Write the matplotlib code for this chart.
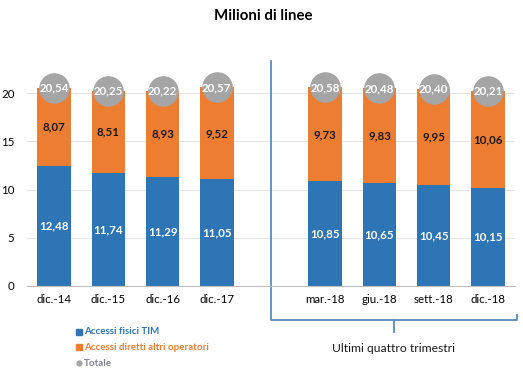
import matplotlib.pyplot as plt
import matplotlib.transforms as mtransforms
from matplotlib.lines import Line2D
import numpy as np

plt.rcParams['font.family'] = ['Lato', 'DejaVu Sans']

# dati (milioni di linee)
periodi = ['dic.-14', 'dic.-15', 'dic.-16', 'dic.-17',
           'mar.-18', 'giu.-18', 'sett.-18', 'dic.-18']
posizioni = [0, 1, 2, 3, 5, 6, 7, 8]
accessi_tim = [12.48, 11.74, 11.29, 11.05, 10.85, 10.65, 10.45, 10.15]
accessi_olo = [8.07, 8.51, 8.93, 9.52, 9.73, 9.83, 9.95, 10.06]
totale = [20.54, 20.25, 20.22, 20.57, 20.58, 20.48, 20.40, 20.21]
y_ticks = [0, 5, 10, 15, 20]

BLU = '#2e75b6'
ARANCIO = '#ed7d31'
GRIGIO = '#a5a5a5'
LINEA = '#5b8ac2'

fmt = lambda v: f"{v:.2f}".replace('.', ',')

fig = plt.figure(figsize=(5.23, 3.79), dpi=100)
ax = fig.add_axes([27 / 523, 93 / 379, 488 / 523, 22 * 9.65 / 379])

x = np.array(posizioni)
ax.bar(x, accessi_tim, width=0.62, color=BLU, zorder=2)
ax.bar(x, accessi_olo, width=0.62, bottom=accessi_tim, color=ARANCIO, zorder=2)
ax.plot(x, totale, 'o', color=GRIGIO, markersize=21, zorder=3, clip_on=False)

for xi, a, b, t in zip(x, accessi_tim, accessi_olo, totale):
    ax.text(xi, a / 2, fmt(a), ha='center', va='center', color='white',
            fontsize=8.3, fontweight='bold', zorder=4)
    ax.text(xi, a + b / 2, fmt(b), ha='center', va='center', color='#1a1a1a',
            fontsize=8.3, fontweight='bold', zorder=4)
    ax.text(xi, t, fmt(t), ha='center', va='center', color='white',
            fontsize=8.3, fontweight='bold', zorder=4)

ax.set_xlim(-0.5, 8.5)
ax.set_ylim(0, 22)
ax.set_yticks(y_ticks)
ax.set_xticks(posizioni)
ax.set_xticklabels(periodi, fontsize=8.3)
ax.tick_params(axis='y', labelsize=8.3, length=0, pad=9)
ax.tick_params(axis='x', length=0, pad=6)
ax.grid(axis='y', color='#e6e6e6', linewidth=0.8, zorder=0)
for s in ['top', 'right', 'left']:
    ax.spines[s].set_visible(False)
ax.spines['bottom'].set_color('#bfbfbf')
ax.spines['bottom'].set_zorder(2.5)

fig.text(0.503, 0.958, 'Milioni di linee', ha='center', va='center',
         fontsize=10.8, fontweight='bold')

# parentesi "Ultimi quattro trimestri"
trans = mtransforms.blended_transform_factory(ax.transData, fig.transFigure)
y_top = 1 - 61 / 379
y_bot = 1 - 320 / 379
x_dx = 8.54
ax.add_line(Line2D([4, 4, x_dx, x_dx], [y_top, y_bot, y_bot, y_bot + 0.012],
                   transform=trans, color=LINEA, linewidth=1.3, clip_on=False))
x_mid = 6.27
ax.add_line(Line2D([x_mid, x_mid], [y_bot, 1 - 332 / 379], transform=trans,
                   color=LINEA, linewidth=1.3, clip_on=False))
fig.text(393 / 523, 1 - 349 / 379, 'Ultimi quattro trimestri', ha='center',
         va='center', fontsize=8.7, color='#1a1a1a')

# legenda
voci = [('s', BLU, 'Accessi fisici TIM', BLU, 332),
        ('s', ARANCIO, 'Accessi diretti altri operatori', ARANCIO, 347),
        ('o', GRIGIO, 'Totale', '#7f7f9a', 363)]
for m, c, lab, tc, yp in voci:
    yf = 1 - yp / 379
    ms = 5 if m == 's' else 3.5
    fig.add_artist(Line2D([78.5 / 523], [yf], marker=m, color=c, markersize=ms,
                          linestyle='none'))
    fig.text(84 / 523, yf, lab, ha='left', va='center', fontsize=7,
             fontweight='bold', color=tc)

fig.savefig('out.png', dpi=100)
